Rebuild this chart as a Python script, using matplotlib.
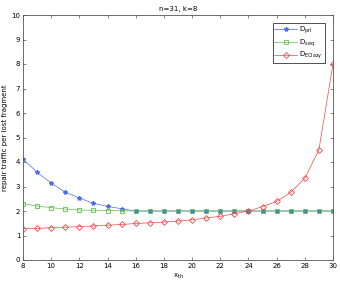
import matplotlib
matplotlib.use("Agg")
import matplotlib.pyplot as plt

x_th = list(range(8, 31))
d_prl = [4.13, 3.58, 3.14, 2.77, 2.53, 2.31, 2.19, 2.09] + [2.0] * 15
d_seq = [2.30, 2.20, 2.14, 2.08, 2.04, 2.03, 2.02, 2.01] + [2.0] * 15
d_eclazy = [1.28, 1.29, 1.32, 1.34, 1.36, 1.39, 1.42, 1.45, 1.49, 1.52, 1.55,
            1.59, 1.64, 1.72, 1.78, 1.89, 2.0, 2.18, 2.39, 2.76, 3.34, 4.5, 8.0]
xticks = list(range(8, 31, 2))
yticks = list(range(0, 11))

plt.rcParams['font.family'] = ['DejaVu Sans']
fig = plt.figure(figsize=(3.4, 2.84), dpi=100)
ax = fig.add_axes([23/340, 1-260/284, 310/340, 245/284])

ax.plot(x_th, d_prl, color='#4a6cf0', marker='*', markersize=3, lw=0.5,
        label=r'D$_{\rm prl}$')
ax.plot(x_th, d_seq, color='#5cbf4a', marker='s', markersize=3, lw=0.5,
        markerfacecolor='none', markeredgewidth=0.6, label=r'D$_{\rm seq}$')
ax.plot(x_th, d_eclazy, color='#f04848', marker='D', markersize=3, lw=0.5,
        markerfacecolor='none', markeredgewidth=0.6, label=r'D$_{\rm EClazy}$')

ax.set_xlim(8, 30)
ax.set_ylim(0, 10)
ax.set_xticks(xticks)
ax.set_yticks(yticks)
ax.tick_params(direction='in', length=2, width=0.5, labelsize=5, pad=2,
               top=True, right=True, colors='#555555', labelcolor='black')
for s in ax.spines.values():
    s.set_linewidth(0.6)
    s.set_color('#555555')
ax.set_title('n=31, k=8', fontsize=5, pad=3)
ax.set_xlabel(r'x$_{\rm th}$', fontsize=5, labelpad=2)
ax.set_ylabel('repair traffic per lost fragment', fontsize=5, labelpad=2)
leg = ax.legend(loc='upper right', fontsize=5, fancybox=False, framealpha=1,
                edgecolor='#333333', handlelength=3.2, borderpad=0.25,
                labelspacing=0.15, handletextpad=0.4,
                bbox_to_anchor=(0.985, 0.982))
leg.get_frame().set_linewidth(0.6)

fig.savefig('out.png', dpi=100)
